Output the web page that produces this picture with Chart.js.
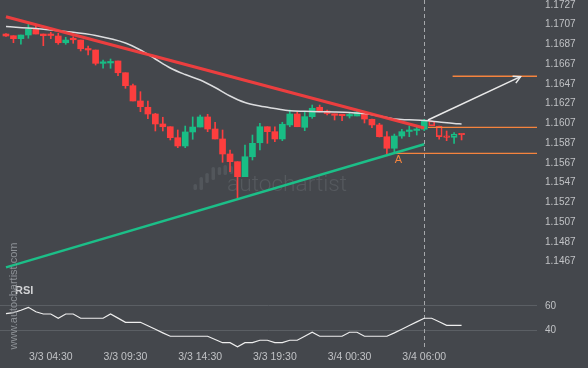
<!DOCTYPE html>
<html>
<head>
<meta charset="utf-8">
<script src="https://cdn.jsdelivr.net/npm/chart.js@4.4.1/dist/chart.umd.min.js"></script>
<style>
  html, body { margin: 0; padding: 0; background: #44474c; }
  #wrap { width: 588px; height: 368px; position: relative; }
  canvas { display: block; }
</style>
</head>
<body>
<div id="wrap"><canvas id="c" width="588" height="368"></canvas></div>
<script>
// ---------- DATA ----------
const opens = [1.16976,1.16959,1.16929,1.16966,1.17027,1.16976,1.16969,1.16956,1.16888,1.16926,
1.16915,1.16824,1.16814,1.16679,1.16683,1.16703,1.16584,1.16453,1.16298,1.16234,
1.16166,1.16065,1.16037,1.15926,1.15842,1.15984,1.16034,1.16136,1.16014,1.15913,
1.15761,1.15683,1.15531,1.15733,1.15875,1.16037,1.15987,1.15913,1.16055,1.16166,
1.16031,1.16139,1.16234,1.16196,1.16163,1.16159,1.16146,1.16146,1.16176,1.16112,
1.16055,1.15936,1.15819,1.15943,1.15989,1.15999,1.16011,1.16095,1.16044,1.15936,
1.15930,1.15963];
const highs = [1.16981,1.16959,1.16966,1.17075,1.17067,1.16976,1.16993,1.16983,1.16943,1.16949,
1.16915,1.16855,1.16814,1.16713,1.16723,1.16703,1.16584,1.16470,1.16392,1.16298,
1.16173,1.16133,1.16037,1.16004,1.16044,1.16136,1.16156,1.16163,1.16082,1.16004,
1.15801,1.15683,1.15852,1.15953,1.16072,1.16037,1.16037,1.16082,1.16206,1.16189,
1.16189,1.16257,1.16257,1.16206,1.16166,1.16161,1.16176,1.16212,1.16186,1.16115,
1.16072,1.15987,1.15963,1.16011,1.16044,1.16037,1.16112,1.16095,1.16044,1.15994,
1.15977,1.15963];
const lows = [1.16951,1.16888,1.16872,1.16933,1.16976,1.16858,1.16929,1.16872,1.16872,1.16882,
1.16804,1.16764,1.16662,1.16629,1.16629,1.16554,1.16426,1.16298,1.16189,1.16118,
1.15994,1.15994,1.15903,1.15825,1.15825,1.15910,1.16034,1.15987,1.15913,1.15677,
1.15582,1.15312,1.15531,1.15700,1.15801,1.15869,1.15885,1.15896,1.16037,1.16037,
1.15997,1.16122,1.16189,1.16156,1.16105,1.16098,1.16125,1.16146,1.16075,1.16027,
1.15933,1.15761,1.15768,1.15920,1.15936,1.15953,1.15997,1.16047,1.15910,1.15896,
1.15869,1.15903];
const closes = [1.16956,1.16929,1.16966,1.17027,1.16976,1.16959,1.16961,1.16888,1.16915,1.16918,
1.16827,1.16814,1.16679,1.16690,1.16698,1.16584,1.16453,1.16298,1.16240,1.16166,
1.16065,1.16037,1.15926,1.15842,1.15984,1.16034,1.16136,1.16014,1.15913,1.15761,
1.15683,1.15531,1.15733,1.15869,1.16037,1.15987,1.15913,1.16062,1.16166,1.16037,
1.16139,1.16224,1.16189,1.16171,1.16153,1.16149,1.16156,1.16186,1.16115,1.16055,
1.15936,1.15819,1.15943,1.15987,1.16004,1.16014,1.16098,1.16047,1.15936,1.15930,
1.15963,1.15956];
const hollowFromIndex = 57;   // candles after the pattern end are drawn hollow

const maIndex  = [0,4,8,12,16,18,20,22,24,26,28,30,32,34,36,38,40,42,44,46,48,50,52,54,56,58,60,61];
const maValues = [1.17052,1.17032,1.17002,1.16961,1.16885,1.16814,1.16723,1.16632,1.16566,1.16510,1.16434,1.16348,
                  1.16282,1.16247,1.16222,1.16199,1.16193,1.16189,1.16186,1.16181,1.16171,1.16146,1.16115,1.16107,
                  1.16100,1.16085,1.16070,1.16065];

const rsiValues = [53.7,54.5,56.5,58.9,55.3,53.4,53.4,49.9,53.4,53.4,49.9,49.9,49.9,49.9,53.4,50.0,46.6,46.6,46.6,43.7,
40.8,37.9,35.1,35.1,35.1,35.1,35.1,35.1,32.4,29.8,29.8,26.5,29.8,29.8,31.8,31.8,29.8,29.8,31.8,31.8,
35.1,38.4,35.1,35.1,35.1,35.1,38.4,38.4,35.1,35.1,35.1,35.1,37.9,40.9,43.9,46.9,49.9,49.9,47.0,44.1,
44.1,44.1];

const resistanceX = [0, 56];
const resistanceY = [1.17151, 1.16024];
const supportX = [0, 56];
const supportY = [1.14613, 1.15859];
const targetLevel = 1.16548,  targetFrom = 59.8;
const breakoutLevel = 1.16031, breakoutFrom = 56.5;
const pointALevel = 1.15768,  pointAFrom = 52;
const arrowX = [56.5, 68.9];
const arrowY = [1.16105, 1.16544];
const patternEndIndex = 56;

const priceTickLabels = ['1.1727','1.1707','1.1687','1.1667','1.1647','1.1627','1.1607','1.1587','1.1567','1.1547','1.1527','1.1507','1.1487','1.1467'];
const rsiTickValues = [40, 60];
const timeTickIndex = [6, 16, 26, 36, 46, 56];
const timeTickLabels = ['3/3 04:30','3/3 09:30','3/3 14:30','3/3 19:30','3/4 00:30','3/4 06:00'];

// ---------- STYLE ----------
const GREEN = '#19bd85', RED = '#fd3e3e', ORANGE = '#f5843e', TEXT = '#c0c2c5';
const FONT = '"Liberation Sans", Arial, sans-serif';
const isUp = i => closes[i] >= opens[i];
const colorOf = i => isUp(i) ? GREEN : RED;
const idx = opens.map((_, i) => i);
const X_MIN = -0.8, X_MAX = 71.1;
const AXIS_W = 51;

const datasets = [
  { type: 'bar', label: 'lowerWick', order: 7, grouped: false, barThickness: 1,
    data: idx.map(i => ({ x: i, y: [lows[i], Math.min(opens[i], closes[i])] })),
    backgroundColor: idx.map(colorOf) },
  { type: 'bar', label: 'upperWick', order: 7, grouped: false, barThickness: 1,
    data: idx.map(i => ({ x: i, y: [Math.max(opens[i], closes[i]), highs[i]] })),
    backgroundColor: idx.map(colorOf) },
  { type: 'bar', label: 'body', order: 6, grouped: false, barThickness: 6, minBarLength: 1.5,
    data: idx.map(i => ({ x: i, y: [opens[i], closes[i]] })),
    backgroundColor: idx.map(i => i >= hollowFromIndex ? 'rgba(0,0,0,0)' : colorOf(i)),
    borderColor: idx.map(colorOf),
    borderWidth: idx.map(i => i >= hollowFromIndex ? 1 : 0),
    borderSkipped: false },
  { type: 'line', label: 'MA', order: 5, yAxisID: 'y',
    data: maIndex.map((x, k) => ({ x, y: maValues[k] })),
    borderColor: '#dcdddf', borderWidth: 1.5, pointRadius: 0, tension: 0.3, cubicInterpolationMode: 'monotone' },
  { type: 'line', label: 'target', order: 4, data: [{ x: targetFrom, y: targetLevel }, { x: X_MAX, y: targetLevel }],
    borderColor: ORANGE, borderWidth: 1.5, pointRadius: 0 },
  { type: 'line', label: 'breakout', order: 4, data: [{ x: breakoutFrom, y: breakoutLevel }, { x: X_MAX, y: breakoutLevel }],
    borderColor: ORANGE, borderWidth: 1.2, pointRadius: 0 },
  { type: 'line', label: 'pointA', order: 4, data: [{ x: pointAFrom, y: pointALevel }, { x: X_MAX, y: pointALevel }],
    borderColor: ORANGE, borderWidth: 1.2, pointRadius: 0 },
  { type: 'line', label: 'support', order: 3, data: supportX.map((x, k) => ({ x, y: supportY[k] })),
    borderColor: '#1cbf88', borderWidth: 2.5, pointRadius: 0 },
  { type: 'line', label: 'resistance', order: 2, data: resistanceX.map((x, k) => ({ x, y: resistanceY[k] })),
    borderColor: 'rgba(244,62,62,0.95)', borderWidth: 3, pointRadius: 0 },
  { type: 'line', label: 'arrow', order: 1, data: arrowX.map((x, k) => ({ x, y: arrowY[k] })),
    borderColor: '#e9e9e9', borderWidth: 1.5, pointRadius: 0 },
  { type: 'line', label: 'RSI', order: 1, yAxisID: 'rsi', data: idx.map(i => ({ x: i, y: rsiValues[i] })),
    borderColor: '#eeeeee', borderWidth: 1.2, pointRadius: 0 }
];

const decor = {
  id: 'decor',
  afterLayout(chart) {
    // the RSI axis shares the price axis column on the right
    const s = chart.scales.rsi;
    s.left = chart.chartArea.right;
    s.right = s.left + AXIS_W;
    s.width = AXIS_W;
  },
  beforeDatasetsDraw(chart) {
    const { ctx, chartArea, scales } = chart;
    ctx.save();
    // watermark logo bars
    ctx.fillStyle = '#52565b';
    const bars = [[193.5,184,3.5,6],[199.5,177,3.5,13],[205.3,173,3.5,10],[211.5,167,3.5,13],[217.7,167,3.5,8],[223.5,165,3.5,10],[229.5,166,3.5,8]];
    bars.forEach(b => { ctx.beginPath(); ctx.roundRect(b[0], b[1], b[2], b[3], 1.5); ctx.fill(); });
    // watermark text
    ctx.fillStyle = '#55595e';
    ctx.textBaseline = 'middle';
    ctx.textAlign = 'left';
    const WF = '"Roboto", "Liberation Sans", sans-serif';
    ctx.font = '300 20px ' + WF;
    const w = ctx.measureText('autochartist').width;
    ctx.font = '300 ' + (20 * 120 / w).toFixed(1) + 'px ' + WF;
    ctx.fillText('autochartist', 227, 185);
    // vertical dashed line at pattern end
    const vx = Math.round(scales.x.getPixelForValue(patternEndIndex)) + 0.5;
    ctx.strokeStyle = '#a6a8ab';
    ctx.lineWidth = 1;
    ctx.setLineDash([4, 3]);
    ctx.beginPath(); ctx.moveTo(vx, chartArea.top); ctx.lineTo(vx, chartArea.bottom + 2); ctx.stroke();
    ctx.restore();
  },
  afterDatasetsDraw(chart) {
    const { ctx, scales } = chart;
    ctx.save();
    // arrow head
    const meta = chart.getDatasetMeta(datasets.findIndex(d => d.label === 'arrow'));
    const p0 = meta.data[0], p1 = meta.data[1];
    const ang = Math.atan2(p1.y - p0.y, p1.x - p0.x);
    ctx.strokeStyle = '#e9e9e9'; ctx.lineWidth = 1.5;
    ctx.beginPath();
    ctx.moveTo(p1.x + 8 * Math.cos(ang + Math.PI - 0.5), p1.y + 8 * Math.sin(ang + Math.PI - 0.5));
    ctx.lineTo(p1.x, p1.y);
    ctx.lineTo(p1.x + 8 * Math.cos(ang + Math.PI + 0.5), p1.y + 8 * Math.sin(ang + Math.PI + 0.5));
    ctx.stroke();
    // A label
    ctx.fillStyle = ORANGE;
    ctx.font = '11px ' + FONT;
    ctx.textAlign = 'center'; ctx.textBaseline = 'middle';
    ctx.fillText('A', scales.x.getPixelForValue(pointAFrom + 0.55), scales.y.getPixelForValue(pointALevel) + 6.5);
    // RSI label
    ctx.fillStyle = '#d2d3d5';
    ctx.font = 'bold 11px ' + FONT;
    ctx.textAlign = 'left';
    ctx.fillText('RSI', 15, 291);
    // vertical site text
    ctx.fillStyle = '#8d9196';
    ctx.font = '11px ' + FONT;
    ctx.translate(13.5, 296);
    ctx.rotate(-Math.PI / 2);
    ctx.textAlign = 'center';
    ctx.fillText('www.autochartist.com', 0, 0);
    ctx.restore();
  }
};

const zeroPad = s => { s.paddingTop = 0; s.paddingBottom = 0; s.paddingLeft = 0; s.paddingRight = 0; };

new Chart(document.getElementById('c'), {
  type: 'bar',
  data: { datasets },
  options: {
    responsive: false, animation: false, devicePixelRatio: 1,
    layout: { padding: 0 },
    plugins: { legend: { display: false }, tooltip: { enabled: false } },
    scales: {
      x: {
        type: 'linear', min: X_MIN, max: X_MAX, offset: false,
        grid: { display: false, drawTicks: false }, border: { display: false },
        ticks: { color: TEXT, font: { size: 10.5, family: FONT }, padding: 3, autoSkip: false, maxRotation: 0,
                 callback: v => { const k = timeTickIndex.indexOf(v); return k >= 0 ? timeTickLabels[k] : ''; } },
        afterBuildTicks: s => { s.ticks = timeTickIndex.map(v => ({ value: v })); },
        afterFit: s => { s.height = 20; zeroPad(s); }
      },
      y: {
        type: 'linear', position: 'right', weight: 1, min: 1.137959, max: 1.173206,
        grid: { display: false, drawTicks: false }, border: { display: false },
        ticks: { color: TEXT, font: { size: 10, family: FONT }, padding: 8,
                 callback: v => { const k = priceTickLabels.findIndex(t => Math.abs(parseFloat(t) - v) < 1e-7); return k >= 0 ? priceTickLabels[k] : ''; } },
        afterBuildTicks: s => { s.ticks = priceTickLabels.map(t => ({ value: parseFloat(t) })); },
        afterFit: s => { s.width = AXIS_W; zeroPad(s); }
      },
      rsi: {
        type: 'linear', position: 'right', weight: 0, min: 25.43, max: 311.85,
        grid: { color: '#5b5f64', lineWidth: 1, drawTicks: false }, border: { display: false },
        ticks: { color: TEXT, font: { size: 10, family: FONT }, padding: 8, callback: v => String(v) },
        afterBuildTicks: s => { s.ticks = rsiTickValues.map(v => ({ value: v })); },
        afterFit: s => { s.width = 0; zeroPad(s); }
      }
    }
  },
  plugins: [decor]
});
</script>
</body>
</html>
